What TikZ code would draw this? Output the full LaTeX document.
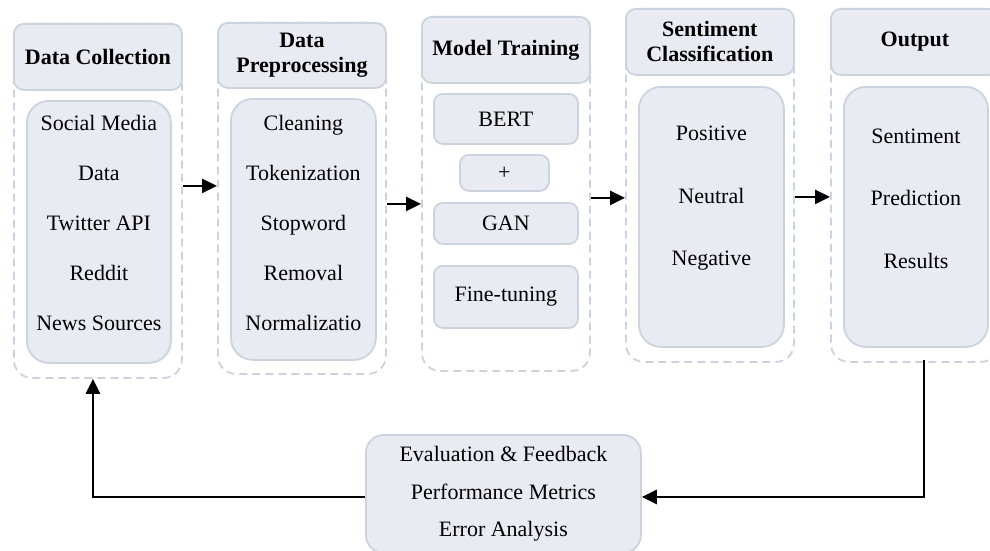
\documentclass[tikz,border=0pt]{standalone}
\usepackage{fontspec}
\setmainfont{Liberation Serif}
\usetikzlibrary{positioning,arrows.meta}
\definecolor{cPanel}{HTML}{E8ECF2}
\definecolor{cEdge}{HTML}{CBD3DE}
\tikzset{
  blk/.style={draw=cEdge, fill=cPanel, line width=1.8pt, align=center,
              inner sep=0pt, font=\fontsize{22}{25}\selectfont},
  lane/.style={draw=cEdge, line width=1.8pt, dash pattern=on 8pt off 5pt,
               rounded corners=18pt, anchor=north west, minimum width=168pt},
  head/.style={blk, rounded corners=10pt, anchor=north west, minimum width=168pt,
               minimum height=66pt, font=\bfseries\fontsize{22}{25}\selectfont},
  panel/.style={blk, rounded corners=22pt, anchor=north west},
  chip/.style={blk, rounded corners=9pt, anchor=north west},
  lst/.style={align=center, inner sep=0pt},
  ar/.style={-{Triangle[length=15pt, width=14pt]}, line width=2.6pt},
}

\begin{document}
\begin{tikzpicture}[x=1pt, y=-1pt]
    \useasboundingbox (0,0) rectangle (990,551);
    \clip (0,0) rectangle (990,551);

    % stage lanes
    \node[lane, minimum height=354pt] (lane1) at (13,23) {};
    \node[lane, minimum height=351pt] (lane2) at (217,22) {};
    \node[lane, minimum height=354pt] (lane3) at (421,16) {};
    \node[lane, minimum height=353pt] (lane4) at (625,8) {};
    \node[lane, minimum height=353pt] (lane5) at (830,8) {};

    % headers
    \node[head] (h1) at (13,23) {Data Collection};
    \node[head, minimum height=65pt] (h2) at (217,22) {Data\\Preprocessing};
    \node[head] (h3) at (421,16) {Model Training};
    \node[head] (h4) at (625,8) {Sentiment\\Classification};
    \node[head] (h5) at (830,8) {\raisebox{-2pt}{Output}};

    % contents
    \node[panel, minimum width=144pt, minimum height=262pt] (in1) at (26,100) {};
    \node[lst, font=\fontsize{22}{50}\selectfont] (t1) at ([yshift=8.5pt]in1.center)
      {Social Media\\Data\\Twitter API\\Reddit\\News Sources};

    \node[panel, minimum width=145pt, minimum height=261pt] (in2) at (230,98) {};
    \node[lst, font=\fontsize{22}{50}\selectfont] (t2) at ([yshift=6.5pt]in2.center)
      {Cleaning\\Tokenization\\Stopword\\Removal\\Normalizatio};

    \node[chip, minimum width=144pt, minimum height=50pt] (bert) at (433,93) {BERT};
    \node[chip, minimum width=89pt, minimum height=36pt] (plus) at (459,154) {+};
    \node[chip, minimum width=144pt, minimum height=41pt] (gan) at (433,202) {GAN};
    \node[chip, minimum width=144pt, minimum height=62pt] (tune) at (433,265) {Fine-tuning};

    \node[panel, minimum width=145pt, minimum height=260pt] (in4) at (638,86) {};
    \node[lst, font=\fontsize{22}{62.5}\selectfont] (t4) at ([yshift=18.5pt]in4.center)
      {Positive\\Neutral\\Negative};

    \node[panel, minimum width=144pt, minimum height=260pt] (in5) at (843,86) {};
    \node[lst, font=\fontsize{22}{62.5}\selectfont] (t5) at ([yshift=18.5pt]in5.center)
      {Sentiment\\Prediction\\Results};

    % feedback box
    \node[blk, rounded corners=18pt, anchor=north west, minimum width=275pt, minimum height=118pt,
          font=\fontsize{22}{37.5}\selectfont] (eval) at (365,434)
      {Evaluation \& Feedback\\Performance Metrics\\Error Analysis};

    % flow
    \coordinate (a1) at ([yshift=15pt]lane1.east);
    \coordinate (a2) at ([yshift=-5.5pt]lane2.east);
    \coordinate (a3) at ([yshift=-4pt]lane3.east);
    \coordinate (a4) at ([yshift=-11.5pt]lane4.east);
    \draw[ar] (a1) -- (a1 -| lane2.west);
    \draw[ar] (a2) -- (a2 -| lane3.west);
    \draw[ar] (a3) -- (a3 -| lane4.west);
    \draw[ar] (a4) -- (a4 -| lane5.west);

    \draw[ar] ([xshift=9pt,yshift=3pt]lane5.south) |- ([yshift=-3pt]eval.east);
    \draw[ar] ([yshift=-3pt]eval.west) -| ([xshift=-5pt]lane1.south);
\end{tikzpicture}
\end{document}
